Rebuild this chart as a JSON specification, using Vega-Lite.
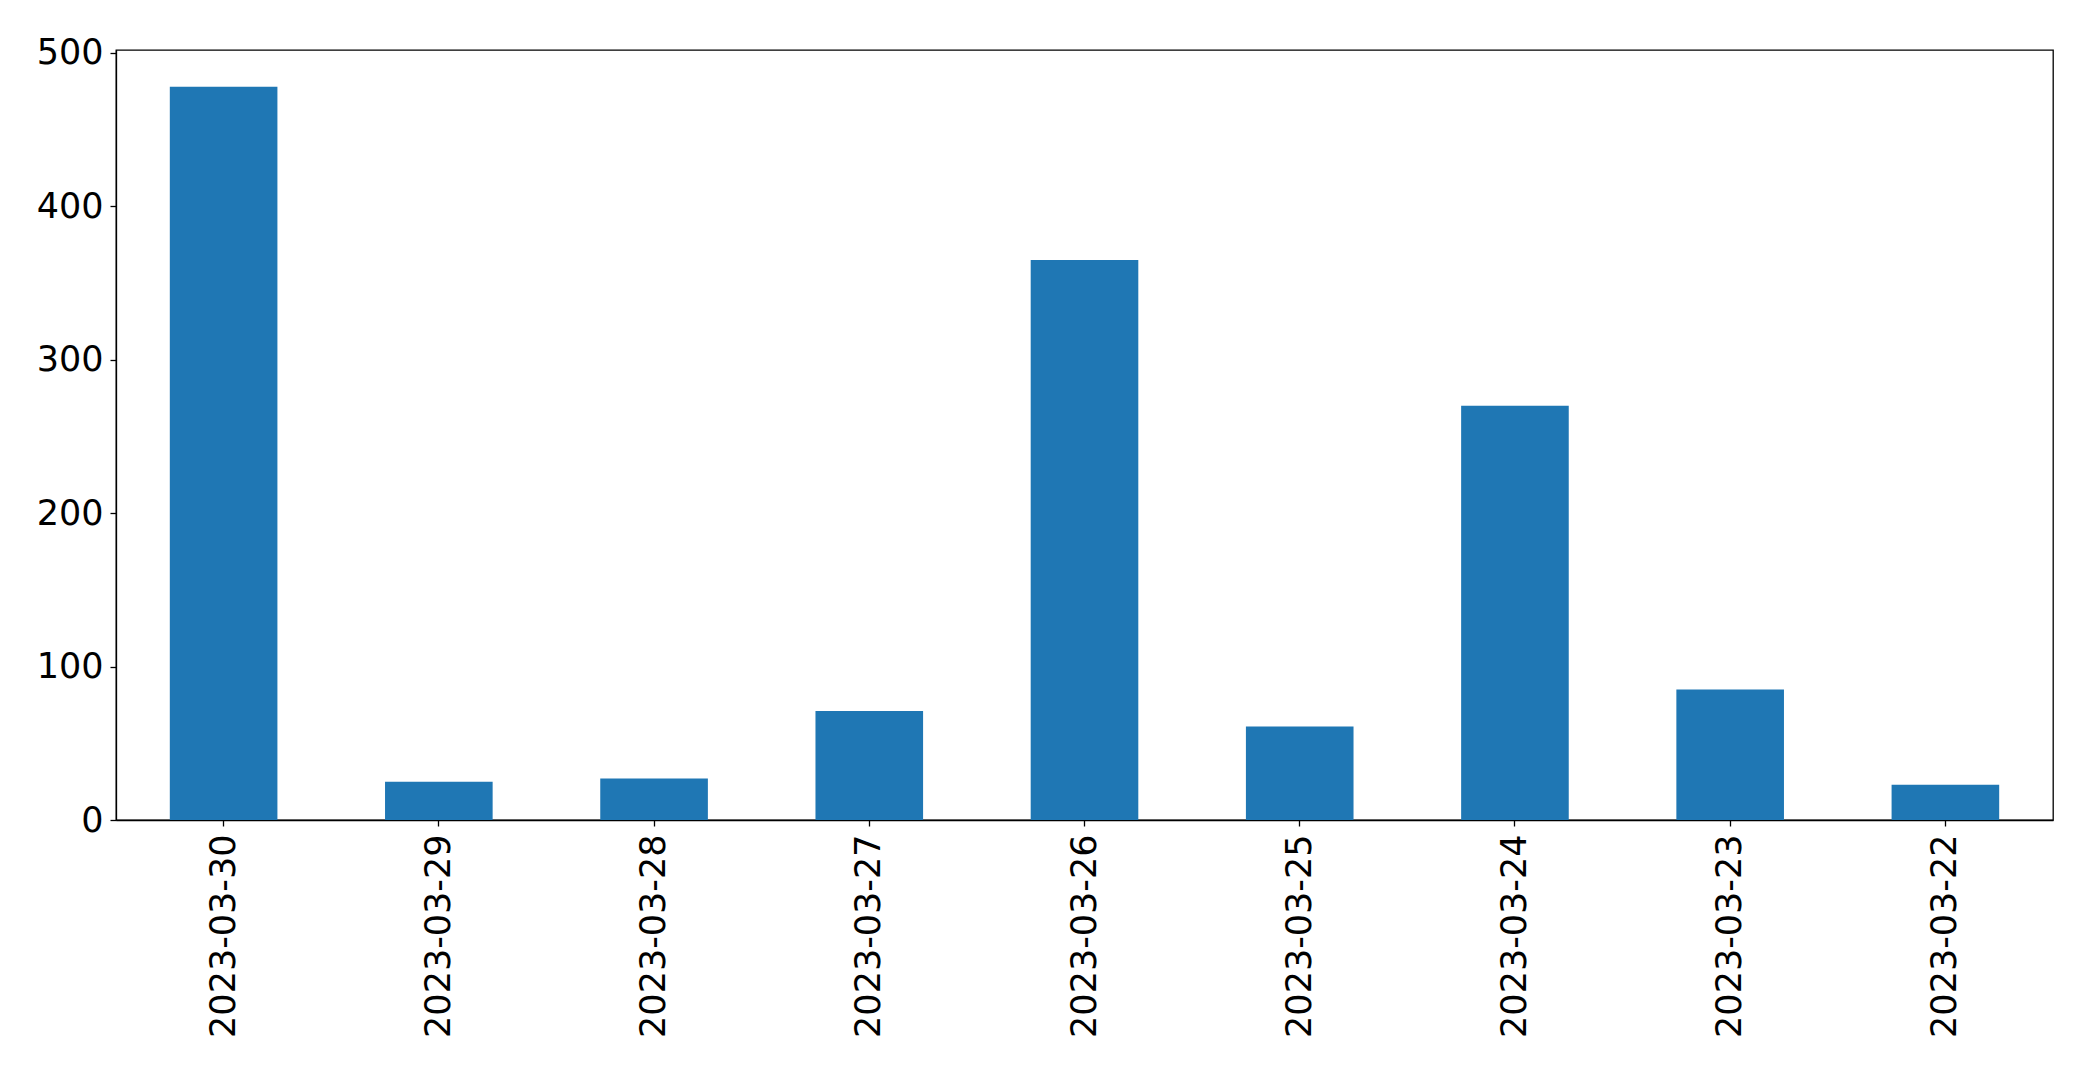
{
  "$schema": "https://vega.github.io/schema/vega-lite/v6.json",
  "width": 1937,
  "height": 770,
  "autosize": {"type": "none"},
  "padding": {"left": 116, "top": 50, "right": 40, "bottom": 252},
  "background": "white",
  "config": {
    "view": {"stroke": "black", "strokeWidth": 1.3},
    "font": "DejaVu Sans"
  },
  "data": {
    "values": [
      {"date": "2023-03-30", "count": 478},
      {"date": "2023-03-29", "count": 25},
      {"date": "2023-03-28", "count": 27},
      {"date": "2023-03-27", "count": 71},
      {"date": "2023-03-26", "count": 365},
      {"date": "2023-03-25", "count": 61},
      {"date": "2023-03-24", "count": 270},
      {"date": "2023-03-23", "count": 85},
      {"date": "2023-03-22", "count": 23}
    ]
  },
  "mark": {"type": "bar", "color": "#1f77b4"},
  "encoding": {
    "x": {
      "field": "date",
      "type": "nominal",
      "sort": null,
      "scale": {"paddingInner": 0.5, "paddingOuter": 0.25},
      "axis": {
        "title": null,
        "labelAngle": 270,
        "labelAlign": "right",
        "labelBaseline": "middle",
        "labelFontSize": 35,
        "labelLimit": 0,
        "labelOverlap": false,
        "labelColor": "black",
        "labelPadding": 8,
        "tickSize": 6,
        "tickColor": "black",
        "tickWidth": 1.3,
        "domainColor": "black",
        "domainWidth": 1.3
      }
    },
    "y": {
      "field": "count",
      "type": "quantitative",
      "scale": {"domain": [0, 501.9], "nice": false, "zero": true},
      "axis": {
        "title": null,
        "values": [0, 100, 200, 300, 400, 500],
        "grid": false,
        "labelFontSize": 35,
        "labelColor": "black",
        "labelPadding": 7,
        "tickSize": 6,
        "tickColor": "black",
        "tickWidth": 1.3,
        "domainColor": "black",
        "domainWidth": 1.3
      }
    }
  }
}
